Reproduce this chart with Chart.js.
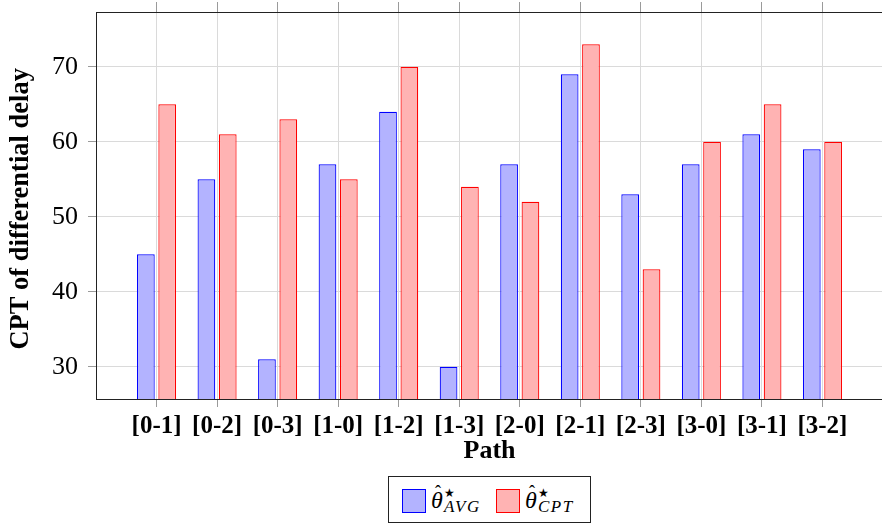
<!DOCTYPE html>
<html>
<head>
<meta charset="utf-8">
<script src="https://cdn.jsdelivr.net/npm/chart.js@4.4.1/dist/chart.umd.min.js"></script>
<style>
  html, body { margin: 0; padding: 0; background: #fff; width: 882px; height: 525px; overflow: hidden; }
  #wrap { position: relative; width: 882px; height: 525px; overflow: hidden; }
  #chart { position: absolute; left: 0; top: 0; }
  #legend { position: absolute; left: 388px; top: 476px; width: 201px; height: 45px;
            border: 1px solid #222; background: #fff; font-family: "Liberation Serif", serif; color: #000; }
  #legend .sw { position: absolute; top: 12px; width: 22px; height: 22px; border: 1px solid; box-sizing: content-box; }
  #legend .th { position: absolute; font-style: italic; font-size: 24px; line-height: 1; top: 11px; }
  #legend .hat { position: absolute; font-size: 18px; line-height: 1; top: 6px; }
  #legend .st { position: absolute; font-family: "DejaVu Sans", sans-serif; font-size: 12px; line-height: 1; top: 10px; }
  #legend .sb { position: absolute; font-style: italic; font-size: 17px; line-height: 1; top: 21px; letter-spacing: 1.5px; }
</style>
</head>
<body>
<div id="wrap">
  <canvas id="chart" width="884" height="525"></canvas>
  <div id="legend">
    <span class="sw" style="left:13px;background:#b3b3ff;border-color:#0000ff"></span>
    <span class="th" style="left:42px">θ</span><span class="hat" style="left:46px">ˆ</span>
    <span class="st" style="left:55px">★</span><span class="sb" style="left:55px">AVG</span>
    <span class="sw" style="left:107px;background:#ffb3b3;border-color:#ff0000"></span>
    <span class="th" style="left:136px">θ</span><span class="hat" style="left:140px">ˆ</span>
    <span class="st" style="left:149px">★</span><span class="sb" style="left:149px">CPT</span>
  </div>
</div>
<script>
// Paths between node pairs and the CPT of the differential delay for each estimator
const paths = ['[0-1]', '[0-2]', '[0-3]', '[1-0]', '[1-2]', '[1-3]',
               '[2-0]', '[2-1]', '[2-3]', '[3-0]', '[3-1]', '[3-2]'];
const avgValues = [45, 55, 31, 57, 64, 30, 57, 69, 53, 57, 61, 59];
const cptValues = [65, 61, 63, 55, 70, 54, 52, 73, 43, 60, 65, 60];
const yTicks = [30, 40, 50, 60, 70];

const serif = '"Liberation Serif", "Times New Roman", serif';
const gridColor = '#dadada';
const tickColor = '#9a9a9a';
const frameColor = '#222';

const pathTicks = scale => { scale.ticks = paths.map((_, i) => ({ value: i })); };
const noPad = s => { s.paddingLeft = 0; s.paddingRight = 0; s.paddingTop = 0; s.paddingBottom = 0; };

new Chart(document.getElementById('chart'), {
  type: 'bar',
  data: {
    datasets: [
      {
        label: 'AVG',
        data: avgValues.map((v, i) => ({ x: i, y: v })),
        backgroundColor: '#b3b3ff',
        borderColor: '#0000ff',
        borderWidth: 1.2,
        xAxisID: 'x', yAxisID: 'y'
      },
      {
        label: 'CPT',
        data: cptValues.map((v, i) => ({ x: i, y: v })),
        backgroundColor: '#ffb3b3',
        borderColor: '#ff0000',
        borderWidth: 1.2,
        xAxisID: 'x', yAxisID: 'y'
      }
    ]
  },
  options: {
    responsive: false,
    devicePixelRatio: 1,
    animation: false,
    categoryPercentage: 0.705,
    barPercentage: 0.83,
    layout: { padding: { left: 0, right: 1, top: 0, bottom: 58 } },
    plugins: { legend: { display: false }, tooltip: { enabled: false } },
    scales: {
      x: {
        type: 'linear', position: 'bottom', min: -1, max: 12, offset: false,
        afterBuildTicks: pathTicks,
        afterFit: s => { s.height = 68; noPad(s); },
        ticks: {
          callback: v => paths[v], autoSkip: false, maxRotation: 0,
          color: '#000', padding: 5,
          font: { family: serif, size: 25, weight: 'bold' }
        },
        grid: { offset: false, color: gridColor, lineWidth: 1, tickLength: 8, tickColor: tickColor, tickWidth: 1 },
        border: { color: frameColor, width: 1 },
        title: { display: true, text: 'Path', color: '#000', padding: 0,
                 font: { family: serif, size: 26, weight: 'bold' } }
      },
      xTop: {
        type: 'linear', position: 'top', min: -1, max: 12, offset: false,
        afterBuildTicks: pathTicks,
        afterFit: s => { s.height = 12; noPad(s); },
        ticks: { display: false },
        grid: { offset: false, drawOnChartArea: false, tickLength: 10, tickColor: tickColor, tickWidth: 1 },
        border: { color: frameColor, width: 1 }
      },
      y: {
        type: 'linear', position: 'left', min: 25.7, max: 77.3,
        afterBuildTicks: s => { s.ticks = yTicks.map(v => ({ value: v })); },
        afterFit: s => { s.width = 96; noPad(s); },
        ticks: { color: '#000', padding: 10, font: { family: serif, size: 26 } },
        grid: { color: gridColor, lineWidth: 1, tickLength: 8, tickColor: tickColor, tickWidth: 1 },
        border: { color: frameColor, width: 1 },
        title: { display: true, text: 'CPT of differential delay ', color: '#000',
                 padding: { top: 5 }, font: { family: serif, size: 26.5, weight: 'bold' } }
      }
    }
  }
});
</script>
</body>
</html>
